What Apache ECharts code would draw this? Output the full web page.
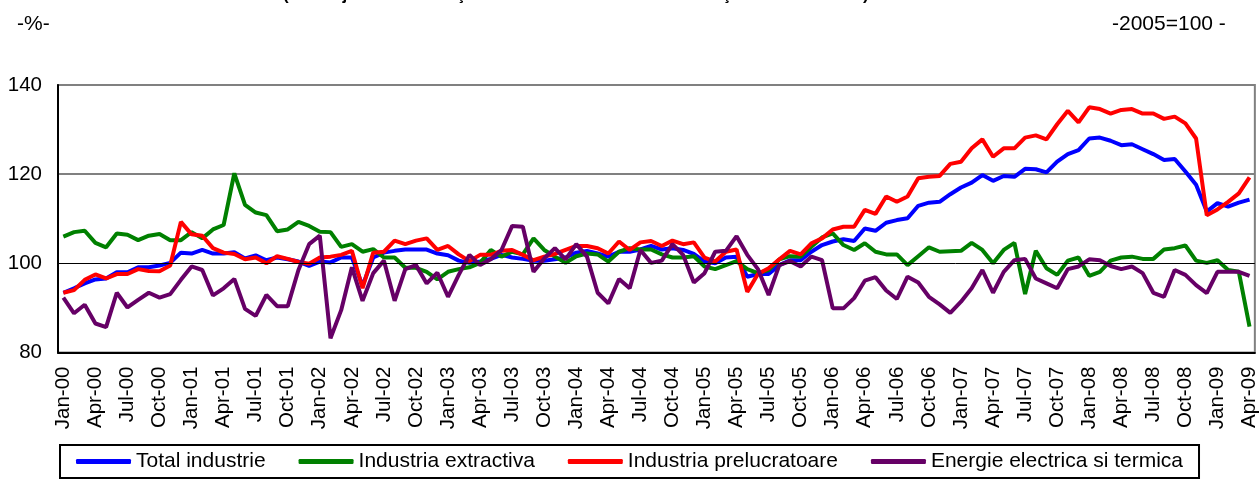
<!DOCTYPE html>
<html>
<head>
<meta charset="utf-8">
<script src="https://cdn.jsdelivr.net/npm/echarts@6/dist/echarts.min.js"></script>
<style>
  html, body { margin: 0; padding: 0; background: #fff; }
  #main { width: 1260px; height: 482px; }
</style>
</head>
<body>
<div id="main"></div>
<script>
// months Jan-00 .. Apr-09
var monthNames = ['Jan','Feb','Mar','Apr','May','Jun','Jul','Aug','Sep','Oct','Nov','Dec'];
var years = ['00','01','02','03','04','05','06','07','08','09'];
var categories = [];
years.forEach(function (y, k) {
  monthNames.forEach(function (m, j) {
    if (k < 9 || j < 4) categories.push(m + '-' + y);
  });
});

var seriesNames = ['Total industrie', 'Industria extractiva', 'Industria prelucratoare', 'Energie electrica si termica'];
var seriesColors = ['#0000ff', '#008000', '#ff0000', '#660066'];

var totalIndustrie = [
  93.4, 94.4, 95.5, 96.4, 96.6, 98, 98, 99.1, 99.1, 99.5, 100.1, 102.4,
  102.2, 103, 102.2, 102.2, 102.5, 101.1, 101.8, 100.7, 101.3, 100.9, 100.4, 99.4,
  100.4, 100.2, 101.3, 101.3, 95, 101.3, 102.4, 102.8, 103.1, 103.1, 103.1, 102.2,
  101.8, 100.6, 100.1, 100.4, 101, 101.9, 101.3, 101, 100.6, 100.6, 100.9, 101.3,
  102.4, 102.8, 102.2, 101.5, 102.6, 102.6, 103.1, 103.9, 103.1, 103.4, 103, 102.1,
  100.4, 100, 101.3, 101.5, 97, 97.6, 97.6, 99.6, 100.7, 100.7, 102.6, 104.1,
  104.9, 105.4, 105, 107.8, 107.3, 109.1, 109.7, 110.1, 112.9, 113.6, 113.8, 115.5,
  117, 118.1, 119.8, 118.5, 119.6, 119.4, 121.2, 121.1, 120.4, 122.8, 124.5, 125.4,
  128, 128.2, 127.5, 126.5, 126.7, 125.6, 124.5, 123.2, 123.4, 120.6, 117.6, 111.6,
  113.5, 112.7, 113.6, 114.3
];
var industriaExtractiva = [
  106, 107, 107.3, 104.6, 103.6, 106.7, 106.4, 105.2, 106.2, 106.6, 105.2, 105.2,
  107, 105.6, 107.6, 108.6, 120.2, 113.1, 111.4, 110.8, 107.2, 107.6, 109.3, 108.4,
  107.1, 107, 103.7, 104.3, 102.6, 103.2, 101.3, 101.3, 99, 99, 98.1, 96.4,
  98.1, 98.7, 99.1, 100.1, 103, 101.5, 102.6, 102, 105.6, 103, 101.5, 100.1,
  101.6, 102.2, 102, 100.4, 102.6, 103.4, 103.1, 103.1, 102, 101.3, 101.3, 101.6,
  99.3, 98.7, 99.6, 100.5, 98.7, 97.8, 98.5, 100.9, 101.6, 101.5, 103.7, 105.8,
  106.7, 104.1, 103, 104.5, 102.6, 102, 102, 99.6, 101.6, 103.6, 102.6, 102.7,
  102.8, 104.6, 103, 100, 103, 104.6, 93.1, 102.8, 98.9, 97.4, 100.6, 101.3,
  97.2, 98.1, 100.6, 101.3, 101.5, 101, 101, 103.1, 103.4, 104, 100.6, 100.1,
  100.7, 98.5, 98.1, 85.8
];
var industriaPrelucratoare = [
  93.4, 94, 96.3, 97.5, 96.6, 97.6, 97.6, 98.7, 98.3, 98.2, 99.5, 109.3,
  106.5, 106.2, 103.4, 102.4, 102.1, 100.9, 101.3, 100, 101.6, 101, 100.3, 99.9,
  101.3, 101.5, 101.9, 102.8, 94.4, 102.4, 102.6, 105.1, 104.3, 105.1, 105.6, 103,
  103.9, 102, 100.5, 101.9, 101.9, 102.8, 103, 101.9, 100.7, 101.5, 102.1, 103,
  103.9, 103.9, 103.4, 102.2, 104.9, 103, 104.7, 105, 103.9, 105.1, 104.3, 104.7,
  101.3, 100.4, 102.6, 103.1, 93.6, 97.6, 98.9, 100.9, 102.8, 102, 104.5, 105.6,
  107.6, 108.2, 108.2, 112, 111.1, 115, 113.8, 115, 119.1, 119.4, 119.6, 122.3,
  122.8, 125.8, 127.8, 123.9, 125.8, 125.8, 128.2, 128.7, 127.8, 131.2, 134.2, 131.6,
  135, 134.6, 133.6, 134.4, 134.6, 133.6, 133.6, 132.4, 132.9, 131.4, 128, 110.8,
  112.1, 113.8, 115.7, 119.3
];
var energieElectrica = [
  92.3, 88.8, 90.7, 86.5, 85.7, 93.4, 90.1, 91.8, 93.4, 92.3, 93.1, 96.3,
  99.3, 98.5, 92.8, 94.4, 96.5, 89.8, 88.2, 92.9, 90.4, 90.4, 98.5, 104.3,
  106.2, 83.2, 89.5, 99.1, 91.6, 97.8, 100.6, 91.6, 98.7, 99.6, 95.5, 97.9,
  92.5, 97.4, 101.9, 99.6, 100.9, 103, 108.4, 108.2, 98.1, 101.1, 103.4, 100.9,
  104.3, 101.5, 93.4, 91, 96.5, 94.4, 103, 100.1, 100.6, 104.3, 101.9, 95.7,
  97.8, 102.6, 102.8, 106.1, 101.9, 98.7, 92.9, 99.6, 100.5, 99.3, 101.5, 100.7,
  89.9, 89.9, 92.2, 96.1, 96.9, 93.9, 92, 97, 95.7, 92.5, 90.8, 88.9,
  91.4, 94.4, 98.5, 93.4, 98.1, 100.7, 101, 96.6, 95.5, 94.4, 98.7, 99.3,
  100.9, 100.7, 99.4, 98.7, 99.3, 97.8, 93.4, 92.5, 98.5, 97.4, 95.1, 93.3,
  98.1, 98.1, 98.1, 97.2
];
var seriesData = [totalIndustrie, industriaExtractiva, industriaPrelucratoare, energieElectrica];

var yMin = 80, yMax = 140, yStep = 20;
var font = "'Liberation Sans', Arial, sans-serif";

var chart = echarts.init(document.getElementById('main'));

var series = seriesNames.map(function (name, i) {
  var s = {
    name: name,
    type: 'line',
    data: seriesData[i],
    symbol: 'none',
    color: seriesColors[i],
    lineStyle: { width: 4, color: seriesColors[i] },
    emphasis: { disabled: true }
  };
  if (i === 0) {
    s.markLine = {
      silent: true,
      symbol: 'none',
      label: { show: false },
      lineStyle: { color: '#000', width: 1, type: 'solid' },
      data: [{ yAxis: 100 }]
    };
  }
  return s;
});

chart.setOption({
  animation: false,
  backgroundColor: '#fff',
  textStyle: { fontFamily: font },
  title: [
    {
      text: '(serie ajustată în funcţie de numărul de zile lucrătoare şi de sezonalitate)',
      left: 283, top: -13, padding: 0,
      textStyle: { fontSize: 17, fontWeight: 'bold', color: '#000', fontFamily: font }
    },
    {
      text: '-%-',
      left: 17, top: 14, padding: 0,
      textStyle: { fontSize: 21, fontWeight: 'normal', color: '#000', fontFamily: font }
    },
    {
      text: '-2005=100 -',
      left: 1112, top: 14, padding: 0,
      textStyle: { fontSize: 21, fontWeight: 'normal', color: '#000', fontFamily: font }
    }
  ],
  legend: {
    data: seriesNames,
    left: 60, top: 445,
    orient: 'horizontal',
    borderColor: '#000', borderWidth: 2,
    padding: [6, 16, 6, 16],
    itemGap: 33, itemWidth: 55, itemHeight: 5,
    icon: 'roundRect',
    textStyle: { fontSize: 21, color: '#000', fontFamily: font }
  },
  grid: {
    left: 58, right: 3, top: 85, bottom: 129.5,
    show: true, borderColor: '#808080', borderWidth: 2
  },
  xAxis: {
    type: 'category',
    data: categories,
    boundaryGap: true,
    axisLine: { lineStyle: { color: '#000', width: 2 } },
    axisTick: { interval: 2, length: 5, lineStyle: { color: '#000', width: 2 } },
    axisLabel: { interval: 2, rotate: 90, margin: 14, fontSize: 20.5, color: '#000', fontFamily: font },
    splitLine: { show: false }
  },
  yAxis: {
    type: 'value',
    min: yMin, max: yMax, interval: yStep,
    axisLine: { show: true, lineStyle: { color: '#000', width: 2 } },
    axisTick: { show: false },
    axisLabel: { margin: 16, fontSize: 20.5, color: '#000', fontFamily: font },
    splitLine: { show: true, lineStyle: { color: ['#808080', 'rgba(0,0,0,0)', '#808080', '#808080'], width: 2 } }
  },
  series: series
});
</script>
</body>
</html>
